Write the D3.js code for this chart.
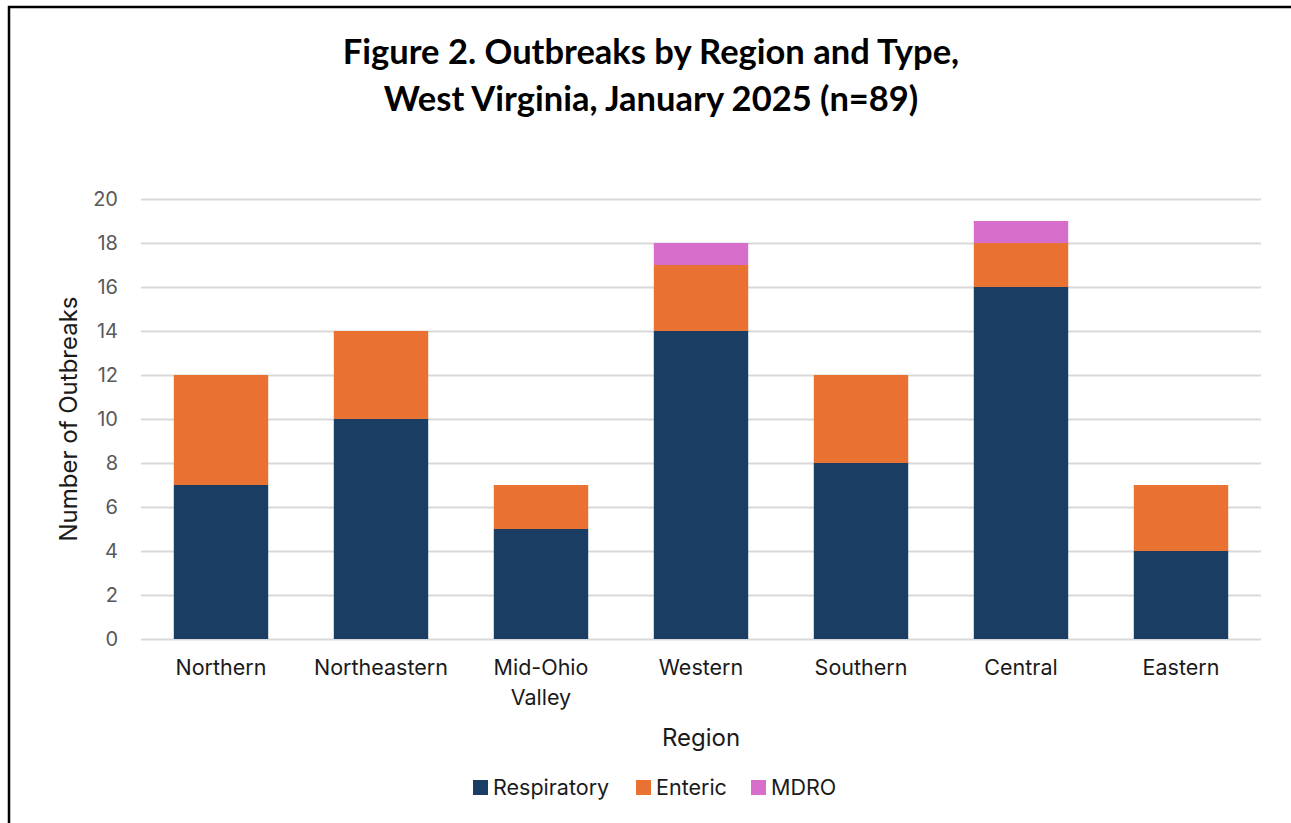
<!DOCTYPE html>
<html><head><meta charset="utf-8">
<script src="https://cdn.jsdelivr.net/npm/d3@7"></script>
<style>body{margin:0;background:#fff;} svg{display:block;}</style>
</head><body>
<script>
const categories = ["Northern","Northeastern","Mid-Ohio Valley","Western","Southern","Central","Eastern"];
const respiratory = [7,10,5,14,8,16,4];
const enteric = [5,4,2,3,4,2,3];
const mdro = [0,0,0,1,0,1,0];
const seriesNames = ["Respiratory","Enteric","MDRO"];
const seriesColors = ["#1A3D63","#E97132","#D86ECC"];
const yTicks = [0,2,4,6,8,10,12,14,16,18,20];
const titleLines = ["Figure 2. Outbreaks by Region and Type,","West Virginia, January 2025 (n=89)"];

(function(){
const W=1291,H=823;
const F="Inter, 'Noto Sans', sans-serif";
const svg=d3.select("body").append("svg").attr("width",W).attr("height",H);
svg.append("rect").attr("width",W).attr("height",H).attr("fill","#fff");
// frame
svg.append("path").attr("d",`M9,${H} V7 H${W}`).attr("fill","none").attr("stroke","#000").attr("stroke-width",2.5);

const pL=141,pR=1261,pT=199,pB=639;
const x=d3.scaleBand().domain(categories).range([pL,pR]).paddingInner(0.41).paddingOuter(0.205);
const y=d3.scaleLinear().domain([0,20]).range([pB,pT]);

const table=categories.map((c,i)=>({cat:c,Respiratory:respiratory[i],Enteric:enteric[i],MDRO:mdro[i]}));
const stack=d3.stack().keys(seriesNames)(table);

// gridlines
const ya=svg.append("g").attr("transform",`translate(${pL},0)`)
  .call(d3.axisLeft(y).tickValues(yTicks).tickSize(-(pR-pL)).tickPadding(23));
ya.select(".domain").remove();
ya.selectAll(".tick line").attr("stroke","#D9D9D9").attr("stroke-width",2);
ya.selectAll(".tick text").attr("fill","#595959").style("font-family",F).style("font-size","20px");

// bars
svg.append("g").selectAll("g").data(stack).join("g")
  .attr("fill",(d,i)=>seriesColors[i])
  .selectAll("rect").data(d=>d.filter(v=>v[1]-v[0]>0)).join("rect")
  .attr("x",d=>x(d.data.cat)).attr("width",x.bandwidth())
  .attr("y",d=>y(d[1])).attr("height",d=>y(d[0])-y(d[1]));

// x axis labels
const xa=svg.append("g").attr("transform",`translate(0,${pB})`).call(d3.axisBottom(x).tickSize(0).tickPadding(0));
xa.select(".domain").remove();
xa.selectAll(".tick text").remove();
xa.selectAll(".tick").each(function(d){
  const g=d3.select(this);
  const words = d==="Mid-Ohio Valley" ? ["Mid-Ohio","Valley"] : [d];
  words.forEach((w,k)=>{
    g.append("text").attr("y",36+k*30).attr("text-anchor","middle").attr("fill","#1a1a1a")
      .style("font-family",F).style("font-size","21.5px").text(w);
  });
});

// axis titles
svg.append("text").attr("x",(pL+pR)/2).attr("y",746).attr("text-anchor","middle")
  .attr("fill","#1a1a1a").style("font-family",F).style("font-size","24px").text("Region");
svg.append("text").attr("transform",`translate(77,${(pT+pB)/2}) rotate(-90)`).attr("text-anchor","middle")
  .attr("fill","#1a1a1a").style("font-family",F).style("font-size","24px").text("Number of Outbreaks");

// title
titleLines.forEach((t,i)=>{
  svg.append("text").attr("x",651).attr("y",64+i*47).attr("text-anchor","middle")
    .attr("fill","#000").style("font-family","Lato, 'Open Sans', sans-serif").style("font-weight","bold").style("font-size","34.5px").text(t);
});

// legend
const legX=[473,636,751];
seriesNames.forEach((s,i)=>{
  const g=svg.append("g").attr("transform",`translate(${legX[i]},780)`);
  g.append("rect").attr("width",15).attr("height",15).attr("fill",seriesColors[i]);
  g.append("text").attr("x",20).attr("y",15).attr("fill","#1a1a1a")
    .style("font-family",F).style("font-size","21.5px").text(s);
});
})();
</script>
</body></html>
